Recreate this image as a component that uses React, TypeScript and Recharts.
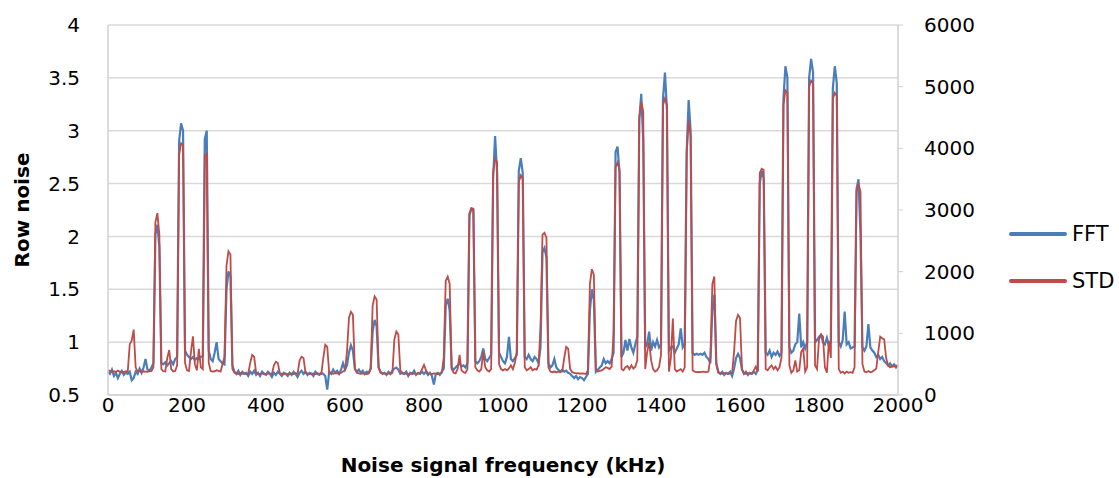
import React from "react";
import { LineChart, Line, XAxis, YAxis, CartesianGrid } from "recharts";

const FONT = "'DejaVu Sans', sans-serif";
const BLUE = "#4a7ebb";
const RED = "#be4b48";

// samples every 5 kHz, 0 .. 2000
const STEP_KHZ = 5;

const freqTicks = [0, 200, 400, 600, 800, 1000, 1200, 1400, 1600, 1800, 2000];
const rowNoiseTicks = [0.5, 1, 1.5, 2, 2.5, 3, 3.5, 4];
const stdTicks = [0, 1000, 2000, 3000, 4000, 5000, 6000];

// FFT row noise (left axis), one line per 50 kHz
const fft = [
  0.72, 0.7, 0.74, 0.68, 0.71, 0.66, 0.7, 0.73, 0.69, 0.71,
  0.7, 0.72, 0.64, 0.66, 0.72, 0.7, 0.75, 0.71, 0.76, 0.84,
  0.74, 0.73, 0.76, 0.8, 2.02, 2.11, 1.9, 0.8, 0.79, 0.81,
  0.78, 0.8, 0.82, 0.79, 0.84, 0.86, 2.9, 3.07, 3.0, 0.92,
  0.88, 0.86, 0.84, 0.86, 0.83, 0.85, 0.84, 0.86, 0.87, 2.92,
  3.0, 0.92, 0.84, 0.82, 0.9, 1.0, 0.84, 0.82, 0.8, 0.79,
  1.5, 1.67, 1.62, 0.78, 0.72, 0.7, 0.73, 0.69, 0.72, 0.7,
  0.71, 0.68, 0.72, 0.7, 0.73, 0.69, 0.71, 0.68, 0.72, 0.7,
  0.69, 0.72, 0.7, 0.67, 0.71, 0.69, 0.72, 0.7, 0.68, 0.71,
  0.7, 0.68, 0.71, 0.69, 0.72, 0.7, 0.67, 0.71, 0.73, 0.7,
  0.72, 0.69, 0.71, 0.7, 0.68, 0.72, 0.7, 0.69, 0.71, 0.7,
  0.68, 0.55, 0.72, 0.7, 0.74, 0.71, 0.73, 0.7, 0.74, 0.8,
  0.74, 0.78, 0.9, 0.97, 0.92, 0.75, 0.72, 0.74, 0.71, 0.73,
  0.7, 0.72, 0.71, 0.75, 1.1, 1.21, 1.15, 0.76, 0.72, 0.7,
  0.71, 0.69, 0.72, 0.7, 0.73, 0.75, 0.76, 0.74, 0.7, 0.71,
  0.7, 0.72, 0.68, 0.71, 0.7, 0.73, 0.69, 0.71, 0.7, 0.72,
  0.7, 0.72, 0.69, 0.71, 0.68, 0.6, 0.7, 0.71, 0.69, 0.72,
  0.75, 1.35, 1.41, 1.3, 0.76, 0.74, 0.76, 0.78, 0.8, 0.77,
  0.78, 0.76, 0.8, 2.2, 2.26, 2.25, 0.82, 0.8, 0.82, 0.86,
  0.94, 0.84, 0.82, 0.85, 0.88, 2.55, 2.95, 2.6, 0.9, 0.86,
  0.82, 0.8, 0.86, 1.05, 0.84, 0.82, 0.85, 0.88, 2.62, 2.74,
  2.6, 0.86, 0.84, 0.88, 0.84, 0.82, 0.86, 0.84, 0.8, 0.95,
  1.85, 1.89, 1.8, 0.8, 0.76, 0.78, 0.84, 0.76, 0.74, 0.72,
  0.74, 0.72, 0.73, 0.71, 0.7, 0.68, 0.66, 0.68, 0.65, 0.67,
  0.66, 0.64, 0.67, 0.7, 1.3, 1.5, 1.4, 0.72, 0.74, 0.76,
  0.78, 0.84, 0.8, 0.82, 0.8, 0.84, 0.9, 2.8, 2.85, 2.6,
  0.86, 0.9, 1.02, 0.92, 1.03, 0.95, 0.9, 0.98, 1.05, 3.1,
  3.35, 2.9, 0.95, 0.98, 1.1, 0.92, 1.0, 0.96, 1.02, 0.95,
  0.98, 3.3, 3.55, 3.2, 0.92, 0.95, 0.96, 0.9, 0.94, 0.98,
  1.13, 0.95, 0.98, 2.8, 3.29, 3.0, 0.9, 0.88, 0.89, 0.88,
  0.89, 0.88, 0.9, 0.86, 0.84, 0.8, 1.3, 1.45, 0.8, 0.72,
  0.7, 0.72, 0.69, 0.71, 0.7, 0.72, 0.68, 0.75, 0.85, 0.89,
  0.85, 0.74, 0.7, 0.72, 0.69, 0.71, 0.7, 0.72, 0.7, 0.74,
  2.5, 2.62, 2.55, 0.9, 0.88, 0.92, 0.86, 0.9, 0.88, 0.91,
  0.87, 0.9, 3.3, 3.61, 3.5, 0.95, 0.9, 0.92, 0.98, 1.0,
  1.27, 0.95, 1.0, 0.94, 1.0, 3.5, 3.68, 3.55, 1.0, 1.02,
  1.05, 1.07, 1.0, 0.98, 1.04, 0.96, 1.0, 3.4, 3.61, 3.45,
  1.0, 0.96, 1.02, 1.29, 0.98, 1.0, 0.94, 0.95, 0.96, 2.45,
  2.54, 2.02, 0.95, 0.92, 0.96, 1.17, 0.95, 0.92, 0.9, 0.86,
  0.88, 0.84, 0.86, 0.82, 0.8, 0.78, 0.8, 0.77, 0.79, 0.76,
  0.78,
];

// STD row noise (right axis), one line per 50 kHz
const std = [
  400, 390, 380, 385, 370, 395, 375, 380, 370, 385,
  380, 820, 880, 1060, 450, 380, 390, 370, 385, 380,
  375, 385, 390, 450, 2800, 2950, 2600, 420, 385, 380,
  600, 730, 420, 380, 390, 480, 3900, 4080, 4050, 520,
  400, 390, 700, 950, 500, 400, 750, 450, 420, 3880,
  3910, 520, 390, 380, 385, 400, 390, 380, 500, 620,
  2100, 2330, 2280, 420, 360, 350, 340, 355, 345, 350,
  340, 350, 520, 650, 620, 360, 345, 340, 350, 345,
  340, 350, 345, 340, 480, 540, 520, 350, 345, 340,
  345, 340, 350, 345, 340, 350, 345, 560, 620, 600,
  360, 345, 340, 350, 345, 340, 350, 345, 340, 600,
  815, 780, 360, 350, 345, 355, 350, 345, 360, 380,
  400, 700, 1250, 1350, 1300, 420, 360, 350, 345, 350,
  345, 340, 350, 420, 1450, 1600, 1550, 450, 360, 350,
  345, 340, 350, 345, 360, 900, 1030, 980, 400, 350,
  345, 350, 340, 345, 350, 345, 340, 350, 345, 420,
  490, 400, 350, 345, 340, 350, 345, 340, 350, 360,
  600, 1850, 1920, 1800, 420, 360, 350, 420, 650, 400,
  370, 360, 420, 2950, 3030, 3020, 450, 400, 380, 420,
  700, 450, 400, 380, 420, 3600, 3830, 3780, 500, 420,
  400, 420, 400, 430, 480, 420, 520, 700, 3450, 3560,
  3500, 450, 400, 420, 450, 400, 420, 410, 480, 1100,
  2600, 2630, 2550, 450, 380, 370, 380, 370, 380, 375,
  380, 600, 780, 750, 420, 370, 360, 350, 355, 345,
  350, 345, 340, 400, 1800, 2040, 1950, 420, 380, 390,
  400, 420, 450, 440, 420, 460, 1000, 3700, 3770, 3650,
  420, 400, 450, 470, 420, 480, 430, 460, 560, 4500,
  4750, 4600, 420, 700, 860, 560, 420, 380, 400, 450,
  650, 4700, 4810, 4700, 380, 600, 1240, 420, 380, 400,
  420, 380, 450, 3900, 4450, 4200, 400, 380, 370, 375,
  370, 380, 375, 370, 380, 600, 1800, 1920, 500, 360,
  350, 345, 355, 350, 345, 350, 360, 700, 1200, 1300,
  1250, 420, 350, 345, 355, 350, 345, 400, 460, 380,
  3600, 3670, 3650, 420, 400, 450, 480, 420, 460, 400,
  450, 600, 4700, 4940, 4900, 480, 360, 400, 560, 380,
  400, 700, 750, 380, 450, 5000, 5100, 5050, 480, 420,
  900, 980, 950, 450, 360, 880, 600, 4800, 4900, 4850,
  420, 360, 380, 350, 380, 360, 370, 360, 450, 3300,
  3420, 3300, 500, 380, 370, 390, 370, 380, 400, 430,
  700, 945, 920, 900, 600, 480, 450, 470, 460, 480,
  470,
];

const data = fft.map((v, i) => ({ freq: i * STEP_KHZ, fft: v, std: std[i] }));

const legendItems = [
  { name: "FFT", color: BLUE },
  { name: "STD", color: RED },
];

const tickStyle = { fontFamily: FONT, fontSize: 20, fill: "#000" };

const RowNoiseTitle = ({ viewBox }: any) => {
  const cx = viewBox.x + 22;
  const cy = viewBox.y + viewBox.height / 2;
  return (
    <text
      x={cx}
      y={cy}
      transform={`rotate(-90 ${cx} ${cy})`}
      textAnchor="middle"
      dominantBaseline="central"
      fontFamily={FONT}
      fontSize={20}
      fontWeight="bold"
      fill="#000"
    >
      Row noise
    </text>
  );
};

const FreqTitle = ({ viewBox }: any) => {
  const cx = viewBox.x + viewBox.width / 2;
  const cy = viewBox.y + 70;
  return (
    <text
      x={cx}
      y={cy}
      textAnchor="middle"
      dominantBaseline="central"
      fontFamily={FONT}
      fontSize={20}
      fontWeight="bold"
      fill="#000"
    >
      Noise signal frequency (kHz)
    </text>
  );
};

export default function App() {
  return (
    <div style={{ position: "absolute", left: 0, top: 0, width: 1119, height: 478, background: "#fff" }}>
      <LineChart width={1119} height={478} data={data} margin={{ top: 25, right: 121, bottom: 0, left: 0 }}>
        <CartesianGrid yAxisId="left" vertical={false} stroke="#d9d9d9" strokeWidth={1.5} />
        <XAxis
          dataKey="freq"
          type="number"
          domain={[0, 2000]}
          ticks={freqTicks}
          interval={0}
          height={83}
          tick={tickStyle}
          tickLine={false}
          tickSize={0}
          tickMargin={3}
          axisLine={{ stroke: "#d0d0d0", strokeWidth: 1.5 }}
          label={FreqTitle}
        />
        <YAxis
          yAxisId="left"
          domain={[0.5, 4]}
          ticks={rowNoiseTicks}
          interval={0}
          width={108}
          tick={tickStyle}
          tickLine={false}
          tickSize={0}
          tickMargin={28}
          axisLine={{ stroke: "#d0d0d0", strokeWidth: 1.5 }}
          label={RowNoiseTitle}
        />
        <YAxis
          yAxisId="right"
          orientation="right"
          domain={[0, 6000]}
          ticks={stdTicks}
          interval={0}
          width={100}
          tick={tickStyle}
          tickLine={{ stroke: "#d0d0d0" }}
          tickSize={5}
          tickMargin={21}
          axisLine={{ stroke: "#d0d0d0", strokeWidth: 1.5 }}
        />
        <Line
          yAxisId="left"
          type="linear"
          dataKey="fft"
          name="FFT"
          stroke={BLUE}
          strokeWidth={2.2}
          dot={false}
          isAnimationActive={false}
        />
        <Line
          yAxisId="right"
          type="linear"
          dataKey="std"
          name="STD"
          stroke={RED}
          strokeWidth={1.8}
          dot={false}
          isAnimationActive={false}
        />
      </LineChart>
      <div style={{ position: "absolute", left: 1008, top: 210, fontFamily: FONT, fontSize: 21 }}>
        {legendItems.map((it) => (
          <div key={it.name} style={{ display: "flex", alignItems: "center", height: 47 }}>
            <svg width={60} height={8} style={{ marginRight: 4 }}>
              <line x1={3} y1={4} x2={57} y2={4} stroke={it.color} strokeWidth={4} strokeLinecap="round" />
            </svg>
            <span>{it.name}</span>
          </div>
        ))}
      </div>
    </div>
  );
}
